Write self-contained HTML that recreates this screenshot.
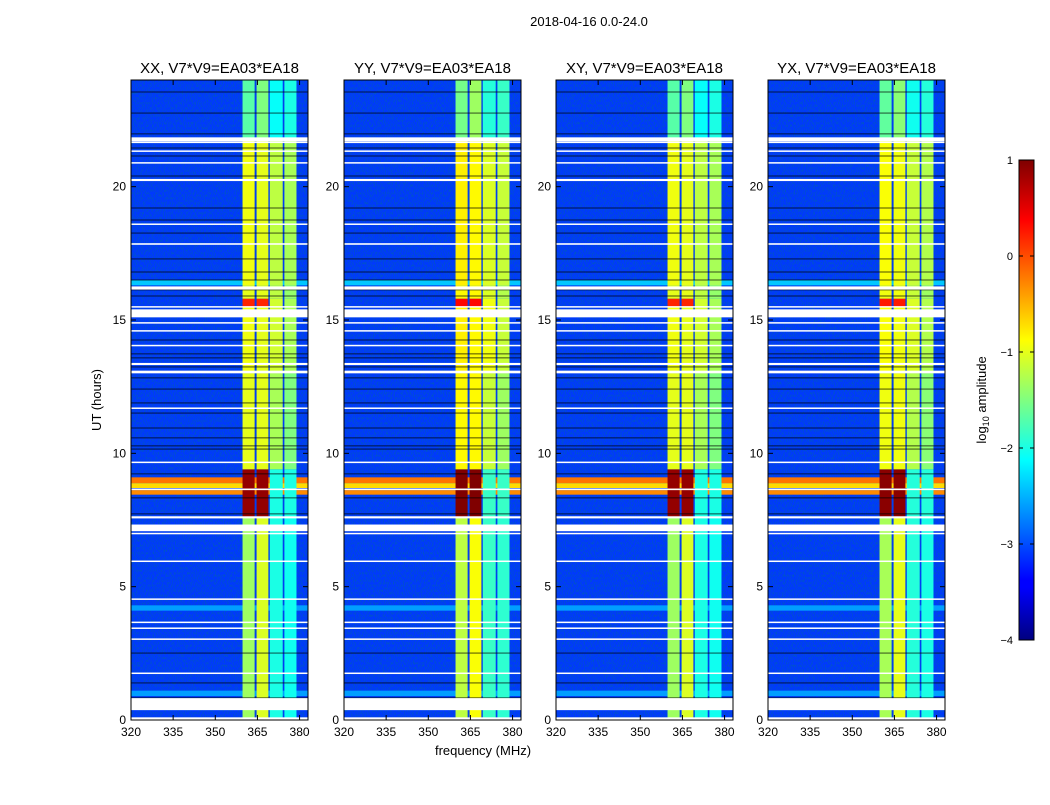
<!DOCTYPE html>
<html><head><meta charset="utf-8"><style>
body{margin:0;background:#fff}
svg{font-family:"Liberation Sans",sans-serif}
</style></head><body>
<svg id="c" width="1050" height="800" viewBox="0 0 1050 800" xmlns="http://www.w3.org/2000/svg">
<defs>
<filter id="nz" x="0" y="0" width="1" height="1"><feTurbulence type="fractalNoise" baseFrequency="0.9 0.4" numOctaves="2" seed="3"/><feColorMatrix type="matrix" values="0 0 0 0 0  0 0 0 0 0.1  0 0 0 0 0.5  0 0 0 2.2 -0.9"/></filter>
<linearGradient id="jet" x1="0" y1="1" x2="0" y2="0">
<stop offset="0" stop-color="#00007f"/><stop offset="0.11" stop-color="#0000ff"/><stop offset="0.125" stop-color="#0000ff"/><stop offset="0.375" stop-color="#00ffff"/><stop offset="0.5" stop-color="#80ff80"/><stop offset="0.625" stop-color="#ffff00"/><stop offset="0.875" stop-color="#ff0000"/><stop offset="1" stop-color="#7f0000"/>
</linearGradient>
</defs>
<text x="589" y="26" font-size="13" text-anchor="middle">2018-04-16 0.0-24.0</text>
<text x="483" y="755" font-size="13" text-anchor="middle">frequency (MHz)</text>
<text transform="translate(101,400) rotate(-90)" font-size="13" text-anchor="middle">UT (hours)</text>
<g id="panels"></g>
<g>
<rect x="1019" y="160" width="15" height="480" fill="url(#jet)" stroke="#000" stroke-width="1"/>
</g>
<g id="cbticks"></g>
<text transform="translate(986,400) rotate(-90)" font-size="13" text-anchor="middle">log<tspan font-size="9" dy="3">10</tspan><tspan dy="-3"> amplitude</tspan></text>
</svg>
<script>
const panelTitles=["XX, V7*V9=EA03*EA18","YY, V7*V9=EA03*EA18","XY, V7*V9=EA03*EA18","YX, V7*V9=EA03*EA18"];
const panelOffset=[0,0.15,0,0.05];
const bandStart=[359.7,364.7,369.4,374.6];
const bandEnd=[364.0,368.9,374.0,378.9];
const segStart=[0,7.6,9.4,13.0,15.5,15.8,16.3,21.8];
const segEnd=[7.6,9.4,13.0,15.5,15.8,16.3,21.8,24];
const segB1=[-1.35,0.9,-1.0,-0.95,0.2,-1.0,-0.95,-1.7];
const segB2=[-1.05,0.9,-1.0,-1.0,0.2,-1.0,-1.0,-1.5];
const segB3=[-2.0,-2.0,-1.3,-1.1,-1.1,-1.2,-1.2,-2.1];
const segB4=[-2.05,-2.0,-1.5,-1.3,-1.3,-1.4,-1.3,-2.0];
const bgLevel=-3.1;
const stripStart=[16.3,4.1,0.9];
const stripEnd=[16.5,4.3,1.1];
const stripLevel=[-2.4,-2.6,-2.6];
const rfiStart=[8.88,8.7,8.45];
const rfiEnd=[9.1,8.88,8.62];
const rfiLevel=[-0.2,-0.7,-0.3];
const blackLines=[23.55,22.76,21.98,21.45,21.15,20.4,19.2,18.75,18.26,17.29,16.8,16.5,16.13,15.9,14.25,13.73,13.58,13.24,12.83,12.41,11.89,11.51,10.95,10.58,10.28,10.16,9.23,8.33,7.73,2.51,1.39,0.83];
const flagStart=[21.7,21.65,21.31,20.88,20.21,18.58,17.82,16.14,15.48,15.1,14.88,14.58,14.03,13.31,13.0,11.68,9.65,8.62,7.56,7.08,6.98,5.94,4.52,3.65,3.43,3.02,1.74,0.37,0];
const flagEnd=[21.85,21.69,21.36,20.92,20.29,18.62,17.88,16.26,15.52,15.4,14.92,14.62,14.07,13.39,13.1,11.72,9.69,8.68,7.64,7.33,7.02,5.98,4.56,3.69,3.47,3.06,1.78,0.82,0.1];
const yTicks=[0,5,10,15,20];
const xTicks=[320,335,350,365,380];
const cbTicks=[1,0,-1,-2,-3,-4];
const cbLabels=["1","0","\u22121","\u22122","\u22123","\u22124"];

const NS="http://www.w3.org/2000/svg";
const px0=[131,344,556,768], PW=177, PT=80, PB=720;
function jet(v){let t=Math.max(0,Math.min(1,(v+4)/5));const c=x=>Math.round(255*Math.max(0,Math.min(1,1.5-Math.abs(4*t-x))));return `rgb(${c(3)},${c(2)},${c(1)})`;}
function mk(tag,attrs,parent){const e=document.createElementNS(NS,tag);for(const k in attrs)e.setAttribute(k,attrs[k]);parent.appendChild(e);return e;}
const root=document.getElementById('panels');
panelTitles.forEach((title,p)=>{
  const x0=px0[p];
  const xs=f=>x0+(f-320)/63*PW;
  const ys=h=>PB-h/24*(PB-PT);
  const g=mk('g',{},root);
  
  
  const bg=mk('rect',{x:x0,y:PT,width:PW,height:PB-PT,fill:jet(bgLevel)},g);
  
  
  mk('rect',{x:x0,y:PT,width:PW,height:PB-PT,filter:'url(#nz)'},g);
  stripStart.forEach((s,i)=>{const r=mk('rect',{x:x0,y:ys(stripEnd[i]),width:PW,height:ys(s)-ys(stripEnd[i]),fill:jet(stripLevel[i])},g);
    
    });
  rfiStart.forEach((s,i)=>{const r=mk('rect',{x:x0,y:ys(rfiEnd[i]),width:PW,height:ys(s)-ys(rfiEnd[i]),fill:jet(rfiLevel[i])},g);
    
    });
  const bands=[segB1,segB2,segB3,segB4];
  bands.forEach((lv,b)=>{segStart.forEach((s,i)=>{
    const r=mk('rect',{x:xs(bandStart[b]),y:ys(segEnd[i]),width:xs(bandEnd[b])-xs(bandStart[b]),height:ys(s)-ys(segEnd[i]),fill:jet(lv[i]+panelOffset[p])},g);
    
    });});
  blackLines.forEach(h=>{const r=mk('rect',{x:x0,y:ys(h)-0.5,width:PW,height:1,fill:'#000','fill-opacity':0.7},g);
    
    });
  flagStart.forEach((s,i)=>{const r=mk('rect',{x:x0,y:ys(flagEnd[i]),width:PW,height:Math.max(1.5,ys(s)-ys(flagEnd[i])),fill:'#fff'},g);
    
    });
  mk('rect',{x:x0,y:PT,width:PW,height:PB-PT,fill:'none',stroke:'#000','stroke-width':1},g);
  const t=mk('text',{x:x0+PW/2,y:73,'font-size':15,'text-anchor':'middle'},g);t.textContent=title;
  
  
  yTicks.forEach(v=>{const y=ys(v);mk('line',{x1:x0,x2:x0+5,y1:y,y2:y,stroke:'#000'},g);mk('line',{x1:x0+PW-5,x2:x0+PW,y1:y,y2:y,stroke:'#000'},g);
    const l=mk('text',{x:x0-5,y:y+4,'font-size':12,'text-anchor':'end'},g);l.textContent=v;
    
    });
  xTicks.forEach(v=>{const x=xs(v);mk('line',{x1:x,x2:x,y1:PB,y2:PB-5,stroke:'#000'},g);mk('line',{x1:x,x2:x,y1:PT,y2:PT+5,stroke:'#000'},g);
    const l=mk('text',{x:x,y:PB+16,'font-size':12,'text-anchor':'middle'},g);l.textContent=v;
    
    });
});
const cb=document.getElementById('cbticks');
cbTicks.forEach((v,i)=>{const y=160+(1-v)/5*480;
  mk('line',{x1:1019,x2:1023,y1:y,y2:y,stroke:'#000'},cb);mk('line',{x1:1030,x2:1034,y1:y,y2:y,stroke:'#000'},cb);
  const l=mk('text',{x:1013,y:y+4,'font-size':11,'text-anchor':'end'},cb);l.textContent=cbLabels[i];
  
  });
</script>
</body></html>
